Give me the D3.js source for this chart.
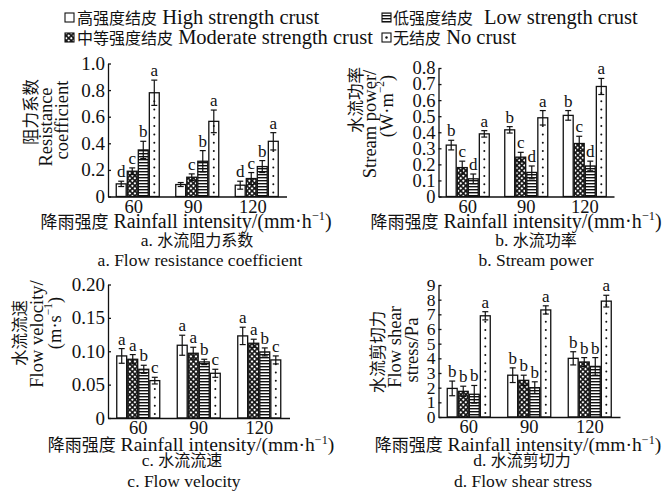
<!DOCTYPE html>
<html>
<head>
<meta charset="utf-8">
<script src="https://cdn.jsdelivr.net/npm/d3@7"></script>
<style>
  html, body { margin: 0; padding: 0; background: #ffffff; }
  svg { display: block; }
</style>
</head>
<body>
<svg id="chart" width="662" height="493"></svg>
<script>
// ---- data -------------------------------------------------------------
const intensities = ["60", "90", "120"];
const crustKeys = ["high", "moderate", "low", "none"];
const crustZh = ["高强度结皮", "中等强度结皮", "低强度结皮", "无结皮"];
const crustEn = ["High strength crust", "Moderate strength crust", "Low strength crust", "No crust"];

// rows follow crustKeys, columns follow intensities
const resistanceMean = [[0.095, 0.09, 0.085], [0.19, 0.145, 0.135], [0.35, 0.265, 0.225], [0.78, 0.565, 0.415]];
const resistanceErr  = [[0.02, 0.015, 0.03], [0.025, 0.025, 0.045], [0.065, 0.08, 0.045], [0.095, 0.085, 0.065]];
const resistanceSig  = [["d", "", "d"], ["c", "c", "c"], ["b", "b", "b"], ["a", "a", "a"]];
const resistanceTicks = [0, 0.2, 0.4, 0.6, 0.8, 1.0];

const powerMean = [[0.32, 0.415, 0.505], [0.18, 0.245, 0.33], [0.11, 0.15, 0.19], [0.39, 0.49, 0.685]];
const powerErr  = [[0.03, 0.02, 0.03], [0.04, 0.03, 0.045], [0.03, 0.04, 0.03], [0.02, 0.045, 0.05]];
const powerSig  = [["b", "b", "b"], ["c", "c", "c"], ["d", "d", "d"], ["a", "a", "a"]];
const powerTicks = [0, 0.1, 0.2, 0.3, 0.4, 0.5, 0.6, 0.7, 0.8];

const velocityMean = [[0.093, 0.109, 0.123], [0.088, 0.097, 0.112], [0.073, 0.084, 0.099], [0.056, 0.067, 0.087]];
const velocityErr  = [[0.011, 0.015, 0.013], [0.007, 0.009, 0.006], [0.006, 0.004, 0.006], [0.005, 0.006, 0.006]];
const velocitySig  = [["a", "a", "a"], ["a", "a", "a"], ["b", "b", "b"], ["c", "c", "c"]];
const velocityTicks = [0, 0.05, 0.10, 0.15, 0.20];

const shearMean = [[1.95, 2.85, 4.0], [1.75, 2.5, 3.75], [1.55, 2.0, 3.45], [6.9, 7.3, 7.9]];
const shearErr  = [[0.5, 0.5, 0.45], [0.35, 0.35, 0.3], [0.6, 0.4, 0.6], [0.28, 0.28, 0.4]];
const shearSig  = [["b", "b", "b"], ["b", "b", "b"], ["b", "b", "b"], ["a", "a", "a"]];
const shearTicks = [0, 1, 2, 3, 4, 5, 6, 7, 8, 9];

// ---- setup ------------------------------------------------------------
const EN = "'Liberation Serif', 'Times New Roman', serif";
const ZH = "'Noto Sans CJK SC', 'Noto Sans CJK TC', sans-serif";
const INK = "#111";

const svg = d3.select("#chart");
svg.append("rect").attr("width", 662).attr("height", 493).attr("fill", "#fff");
const defs = svg.append("defs");

// cross-hatch fill (moderate crust)
const pc = defs.append("pattern").attr("id", "pCross")
  .attr("patternUnits", "userSpaceOnUse").attr("width", 3.6).attr("height", 3.6)
  .attr("patternTransform", "rotate(45)");
pc.append("rect").attr("width", 3.6).attr("height", 3.6).attr("fill", INK);
pc.append("rect").attr("x", 0.8).attr("y", 0.8).attr("width", 2).attr("height", 2).attr("fill", "#fff");

// horizontal stripes (low crust)
const ps = defs.append("pattern").attr("id", "pStripe")
  .attr("patternUnits", "userSpaceOnUse").attr("width", 4).attr("height", 3);
ps.append("rect").attr("width", 4).attr("height", 3).attr("fill", "#fff");
ps.append("rect").attr("width", 4).attr("height", 1.4).attr("fill", INK);

const fills = { high: "#fff", moderate: "url(#pCross)", low: "url(#pStripe)", none: "#fff" };

// text made of Chinese / Latin runs, with optional superscripts
function addRich(textSel, parts, zhSize, enSize) {
  let pending = 0;
  parts.forEach(p => {
    const t = textSel.append("tspan");
    if (typeof p === "string") {
      const isZh = /[\u4e00-\u9fff]/.test(p);
      t.attr("font-family", isZh ? ZH : EN).attr("font-size", isZh ? zhSize : enSize).text(p);
      if (pending) { t.attr("dy", pending); pending = 0; }
    } else {
      const shift = enSize * 0.38;
      t.attr("font-family", EN).attr("font-size", enSize * 0.62).attr("dy", -shift).text(p.sup);
      pending = shift;
    }
  });
}

// ---- panels -----------------------------------------------------------
const panels = [
  {
    mean: resistanceMean, err: resistanceErr, sig: resistanceSig, ticks: resistanceTicks,
    fmt: d => d === 0 ? "0" : d.toFixed(1), max: 1.0, tickFont: 19,
    x0: 108, bw: 59.5, y0: 196.5, yTop: 63.5, tickDx: -4,
    yTitle: [
      { parts: ["阻力系数"], x: 30, y: 112 },
      { parts: ["Resistance"], x: 46, y: 127 },
      { parts: ["coefficient"], x: 62, y: 120 }
    ],
    xTitle: { x: 186, y: 228, en: 20 },
    caption: [{ parts: ["a. 水流阻力系数"], x: 197, y: 246 }, { parts: ["a. Flow resistance coefficient"], x: 200, y: 266 }]
  },
  {
    mean: powerMean, err: powerErr, sig: powerSig, ticks: powerTicks,
    fmt: d => d === 0 ? "0" : d.toFixed(1), max: 0.8, tickFont: 18.5,
    x0: 438.5, bw: 58.5, y0: 196.5, yTop: 68, tickDx: 0,
    yTitle: [
      { parts: ["水流功率"], x: 355, y: 100 },
      { parts: ["Stream power/"], x: 370, y: 124 },
      { parts: ["(W·m", { sup: "−2" }, ")"], x: 387, y: 106 }
    ],
    xTitle: { x: 516, y: 228, en: 20 },
    caption: [{ parts: ["b. 水流功率"], x: 536, y: 246 }, { parts: ["b. Stream power"], x: 536, y: 266 }]
  },
  {
    mean: velocityMean, err: velocityErr, sig: velocitySig, ticks: velocityTicks,
    fmt: d => d === 0 ? "0" : d.toFixed(2), max: 0.20, tickFont: 19,
    x0: 108, bw: 60.5, y0: 418, yTop: 284.5, tickDx: 0,
    yTitle: [
      { parts: ["水流流速"], x: 19, y: 333 },
      { parts: ["Flow velocity/"], x: 37, y: 334 },
      { parts: ["(m·s", { sup: "−1" }, ")"], x: 55, y: 323 }
    ],
    xTitle: { x: 191, y: 451, en: 19.6 },
    caption: [{ parts: ["c. 水流流速"], x: 182, y: 466 }, { parts: ["c. Flow velocity"], x: 184, y: 487 }]
  },
  {
    mean: shearMean, err: shearErr, sig: shearSig, ticks: shearTicks,
    fmt: d3.format("d"), max: 9, tickFont: 17.5,
    x0: 438.5, bw: 60.5, y0: 417, yTop: 285, tickDx: 0,
    yTitle: [
      { parts: ["水流剪切力"], x: 377, y: 352 },
      { parts: ["Flow shear"], x: 395, y: 347 },
      { parts: ["stress/Pa"], x: 412, y: 350 }
    ],
    xTitle: { x: 518, y: 451, en: 19.6 },
    caption: [{ parts: ["d. 水流剪切力"], x: 522, y: 466 }, { parts: ["d. Flow shear stress"], x: 523, y: 487 }]
  }
];

panels.forEach(cfg => {
  const g = svg.append("g");
  const x = d3.scaleBand().domain(intensities).range([cfg.x0, cfg.x0 + cfg.bw * intensities.length]);
  const inner = d3.scaleBand().domain(crustKeys).range([-21.5, 21.5]).paddingInner(0.1);
  const y = d3.scaleLinear().domain([0, cfg.max]).range([cfg.y0, cfg.yTop]);

  const rows = [];
  crustKeys.forEach((k, si) => intensities.forEach((it, ii) => rows.push({
    key: k, intensity: it, v: cfg.mean[si][ii], e: cfg.err[si][ii], sig: cfg.sig[si][ii]
  })));
  const bx = d => x(d.intensity) + x.bandwidth() / 2 + inner(d.key);
  const bcx = d => bx(d) + inner.bandwidth() / 2;

  // bars
  g.selectAll("rect.bar").data(rows).join("rect").attr("class", "bar")
    .attr("x", bx).attr("width", inner.bandwidth())
    .attr("y", d => y(d.v)).attr("height", d => y(0) - y(d.v))
    .attr("fill", d => fills[d.key]).attr("stroke", INK).attr("stroke-width", 1.3);

  // dotted column inside the no-crust bars
  rows.filter(d => d.key === "none").forEach(d => {
    for (let yy = y(0) - 4; yy > y(d.v) + 3; yy -= 8.3) {
      g.append("circle").attr("cx", bcx(d)).attr("cy", yy).attr("r", 1).attr("fill", INK);
    }
  });

  // error bars (mean ± error) with caps
  const eb = g.selectAll("g.err").data(rows).join("g").attr("class", "err")
    .attr("stroke", INK).attr("stroke-width", 1.2);
  eb.append("line").attr("x1", bcx).attr("x2", bcx)
    .attr("y1", d => y(d.v - d.e)).attr("y2", d => y(d.v + d.e));
  eb.append("line").attr("x1", d => bcx(d) - 3).attr("x2", d => bcx(d) + 3)
    .attr("y1", d => y(d.v + d.e)).attr("y2", d => y(d.v + d.e));
  eb.append("line").attr("x1", d => bcx(d) - 3).attr("x2", d => bcx(d) + 3)
    .attr("y1", d => y(d.v - d.e)).attr("y2", d => y(d.v - d.e));

  // significance letters
  g.selectAll("text.sig").data(rows.filter(d => d.sig)).join("text").attr("class", "sig")
    .attr("x", bcx).attr("y", d => y(d.v + d.e) - 4)
    .attr("text-anchor", "middle").attr("font-family", EN).attr("font-size", 17).attr("fill", INK)
    .text(d => d.sig);

  // y axis
  const ya = g.append("g").attr("transform", `translate(${cfg.x0},0)`)
    .call(d3.axisLeft(y).tickValues(cfg.ticks).tickFormat(cfg.fmt).tickSize(-3).tickSizeOuter(0).tickPadding(3));
  ya.selectAll("text").attr("font-family", EN).attr("font-size", cfg.tickFont).attr("fill", INK);
  ya.selectAll("line, path").attr("stroke", INK).attr("stroke-width", 1.3);

  // x axis
  const xa = g.append("g").attr("transform", `translate(0,${cfg.y0})`)
    .call(d3.axisBottom(x).tickSize(0).tickPadding(3));
  xa.selectAll("text").attr("font-family", EN).attr("font-size", 18.5).attr("fill", INK).attr("dx", cfg.tickDx);
  xa.select("path").attr("stroke", INK).attr("stroke-width", 1.3);

  // axis titles
  cfg.yTitle.forEach(l => {
    const t = g.append("text").attr("transform", `translate(${l.x},${l.y}) rotate(-90)`)
      .attr("text-anchor", "middle").attr("dominant-baseline", "central").attr("fill", INK);
    addRich(t, l.parts, 16.5, 18.5);
  });
  const xt = g.append("text").attr("x", cfg.xTitle.x).attr("y", cfg.xTitle.y)
    .attr("text-anchor", "middle").attr("fill", INK);
  addRich(xt, ["降雨强度", " Rainfall intensity/(mm·h", { sup: "−1" }, ")"], 17, cfg.xTitle.en);

  cfg.caption.forEach(c => {
    const t = g.append("text").attr("x", c.x).attr("y", c.y).attr("text-anchor", "middle").attr("fill", INK);
    const m = c.parts[0].match(/^([a-d]\. )(.*)$/);
    addRich(t, [m[1], m[2]], 16, 17.5);
  });
});

// ---- legend -----------------------------------------------------------
const legendPos = [
  { sx: 65, sy: 18, tx: 77, enX: null },
  { sx: 65, sy: 38, tx: 77, enX: null },
  { sx: 382, sy: 18, tx: 393, enX: 484 },
  { sx: 382, sy: 38, tx: 393, enX: null }
];
const lg = svg.append("g");
crustKeys.forEach((k, i) => {
  const p = legendPos[i];
  lg.append("rect").attr("x", p.sx).attr("y", p.sy - 5).attr("width", 9).attr("height", 9)
    .attr("fill", fills[k]).attr("stroke", INK).attr("stroke-width", 1.1);
  if (k === "none") lg.append("circle").attr("cx", p.sx + 4.5).attr("cy", p.sy - 0.5).attr("r", 1.2).attr("fill", INK);
  const t = lg.append("text").attr("x", p.tx).attr("y", p.sy + 6).attr("fill", INK);
  if (p.enX === null) {
    addRich(t, [crustZh[i], " " + crustEn[i]], 16, 20.5);
  } else {
    addRich(t, [crustZh[i]], 16, 20.5);
    const t2 = lg.append("text").attr("x", p.enX).attr("y", p.sy + 6).attr("fill", INK);
    addRich(t2, [crustEn[i]], 16, 20.5);
  }
});
</script>
</body>
</html>
